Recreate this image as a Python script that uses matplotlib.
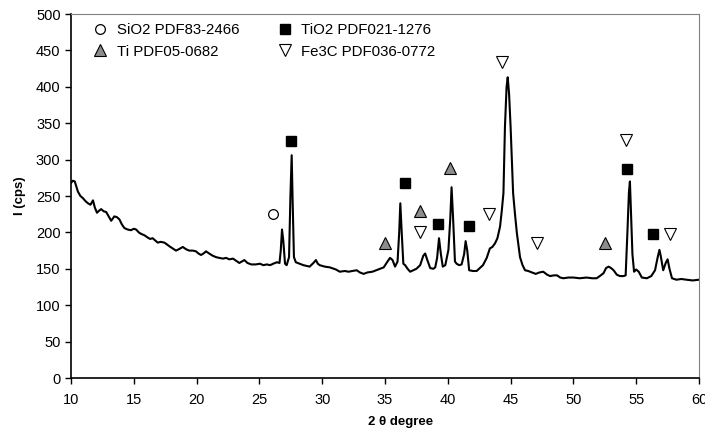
import matplotlib.pyplot as plt

plt.rcParams['font.family'] = ['Liberation Sans', 'DejaVu Sans']

# XRD pattern
two_theta = [10.0, 10.15, 10.3, 10.55, 10.75, 10.95, 11.15, 11.35, 11.55, 11.75, 11.9, 12.07,
             12.25, 12.4, 12.6, 12.8, 13.0, 13.2, 13.45, 13.65, 13.85, 14.05, 14.25, 14.5,
             14.78, 15.0, 15.18, 15.4, 15.58, 15.85, 16.1, 16.3, 16.5, 16.7, 16.9, 17.15,
             17.43, 17.6, 17.83, 18.1, 18.36, 18.6, 18.9, 19.15, 19.4, 19.7, 19.95, 20.15,
             20.35, 20.55, 20.75, 21.0, 21.28, 21.55, 21.8, 22.1, 22.35, 22.6, 22.9, 23.15,
             23.4, 23.6, 23.8, 24.05, 24.35, 24.7, 25.05, 25.3, 25.6, 25.85, 26.1, 26.4,
             26.6, 26.7, 26.8, 26.9, 27.04, 27.17, 27.36, 27.47, 27.57, 27.65, 27.75, 27.9,
             28.2, 28.5, 28.75, 29.0, 29.3, 29.5, 29.65, 29.8, 30.2, 30.6, 31.1, 31.4,
             31.8, 32.1, 32.4, 32.75, 33.0, 33.3, 33.6, 34.0, 34.3, 34.6, 34.9, 35.2,
             35.4, 35.6, 35.8, 36.0, 36.13, 36.22, 36.33, 36.46, 36.6, 36.8, 37.0, 37.25,
             37.5, 37.8, 38.05, 38.2, 38.35, 38.6, 38.85, 39.0, 39.15, 39.3, 39.45, 39.6,
             39.8, 40.05, 40.2, 40.3, 40.42, 40.57, 40.7, 40.9, 41.1, 41.3, 41.42, 41.55,
             41.7, 42.0, 42.3, 42.55, 42.8, 43.1, 43.35, 43.55, 43.76, 43.95, 44.16, 44.3,
             44.43, 44.55, 44.68, 44.77, 44.88, 45.0, 45.2, 45.35, 45.5, 45.75, 45.95, 46.15,
             46.4, 46.7, 47.0, 47.3, 47.6, 47.9, 48.15, 48.45, 48.7, 48.95, 49.2, 49.6,
             50.0, 50.5, 51.05, 51.5, 51.85, 52.1, 52.4, 52.6, 52.8, 53.0, 53.2, 53.45,
             53.7, 54.0, 54.16, 54.3, 54.42, 54.5, 54.58, 54.7, 54.83, 55.0, 55.2, 55.45,
             55.85, 56.2, 56.5, 56.7, 56.85, 56.95, 57.15, 57.35, 57.5, 57.65, 57.85, 58.2,
             58.6, 59.0, 59.5, 60.0]
intensity = [268, 271, 270, 256, 250, 247, 243, 240, 238, 244, 234, 227,
             230, 232, 229, 228, 222, 216, 222, 221, 218, 211, 206, 204,
             203, 205, 204, 200, 198, 196, 193, 191, 192, 189, 186, 187,
             186, 184, 181, 178, 175, 177, 180, 177, 175, 175, 174, 171,
             169, 171, 174, 171, 168, 166, 165, 164, 165, 163, 164, 161,
             158, 160, 162, 158, 156, 156, 157, 155, 156, 155, 157, 159,
             158, 175, 204, 189, 157, 155, 166, 250, 306, 240, 166, 159,
             157, 155, 154, 153, 158, 162, 157, 155, 153, 152, 149, 146,
             147, 146, 147, 148, 145, 143, 145, 146, 148, 150, 152, 160,
             165, 162, 153, 160, 200, 240, 200, 157, 155, 150, 146, 148,
             150, 155, 168, 171, 163, 151, 150, 152, 165, 192, 170, 153,
             155, 176, 220, 262, 220, 160, 157, 155, 156, 170, 188, 175,
             148, 147, 147, 151, 155, 165, 178, 180, 185, 192, 208, 230,
             254, 345, 400, 413, 390, 345, 254, 225, 199, 166, 155, 148,
             147, 145, 143, 145, 146, 142, 140, 141, 141, 138, 137, 138,
             138, 137, 138, 137, 137, 140, 144, 151, 153, 151, 148, 142,
             140, 140, 141, 200, 255, 270, 230, 170, 146, 149, 146, 138,
             137, 140, 148, 165, 176, 168, 148, 158, 163, 150, 137, 135,
             136, 135, 134, 135]

# phase markers above the peaks
sio2_x = [26.06]
sio2_y = [225]
tio2_x = [27.5, 36.6, 39.2, 41.7, 54.3, 56.3]
tio2_y = [325, 268, 211, 209, 287, 198]
ti_x = [35.0, 37.8, 40.2, 52.5]
ti_y = [185, 229, 289, 185]
fe3c_x = [37.8, 43.3, 44.3, 47.1, 54.2, 57.7]
fe3c_y = [200, 225, 434, 185, 327, 198]

fig = plt.figure(figsize=(7.05, 4.34), dpi=100)
ax = fig.add_axes([71 / 705, 56 / 434, 628 / 705, 364 / 434])

ax.plot(two_theta, intensity, color='black', lw=1.5)

circ, = ax.plot(sio2_x, sio2_y, 'o', ms=7, mfc='white', mec='black', mew=0.9, ls='none')
sq, = ax.plot(tio2_x, tio2_y, 's', ms=7, mfc='black', mec='black', ls='none')
tri, = ax.plot(ti_x, ti_y, '^', ms=9, mfc='#8c8c8c', mec='black', mew=0.8, ls='none')
itri, = ax.plot(fe3c_x, fe3c_y, 'v', ms=9, mfc='white', mec='black', mew=0.8, ls='none')

ax.legend([circ, tri, sq, itri],
          ['SiO2 PDF83-2466', 'Ti PDF05-0682', 'TiO2 PDF021-1276', 'Fe3C PDF036-0772'],
          ncol=2, loc='upper left', bbox_to_anchor=(0.014, 1.012), frameon=False,
          fontsize=10.8, handlelength=0.9, handletextpad=0.65, columnspacing=2.6,
          labelspacing=0.5)

ax.set_xlim(10, 60)
ax.set_ylim(0, 500)
ax.set_xticks(range(10, 61, 5))
ax.set_yticks(range(0, 501, 50))
ax.tick_params(direction='out', length=4, width=1, labelsize=10.5, colors='black')
ax.tick_params(axis='x', pad=7)

for s in ['top', 'right']:
    ax.spines[s].set_color('#808080')
ax.spines['left'].set_linewidth(1.2)
ax.spines['bottom'].set_linewidth(1.2)

ax.set_xlabel('2 θ degree', fontsize=9.5, fontweight='bold')
ax.xaxis.set_label_coords(0.524, -0.105)
ax.set_ylabel('I (cps)', fontsize=9.5, fontweight='bold')
ax.yaxis.set_label_coords(-0.072, 0.5)

fig.savefig('out.png', dpi=100)
